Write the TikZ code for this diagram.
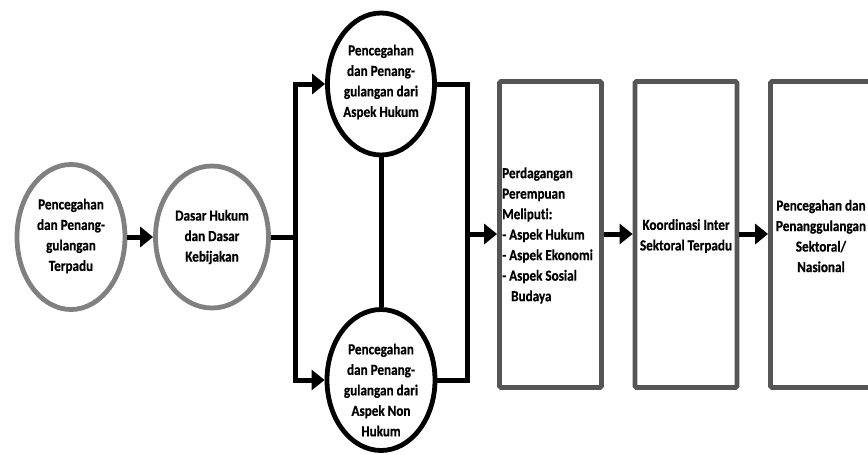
\documentclass[tikz,border=0pt]{standalone}
\usepackage{fontspec}
\setmainfont{Carlito}
\newfontfamily\tallfont[FakeStretch=0.86,FakeBold=0.6,Ligatures=NoCommon]{Carlito}
\usetikzlibrary{arrows.meta,positioning,shapes.geometric}
\definecolor{ink}{RGB}{0,0,0}
\definecolor{ringgrey}{RGB}{128,128,128}
\definecolor{boxgrey}{RGB}{85,85,85}
\tikzset{
  ring/.style={ellipse, draw=ringgrey, line width=4.8pt, fill=white, inner sep=0pt},
  darkring/.style={ring, draw=ink},
  panel/.style={rectangle, draw=boxgrey, line width=4.8pt, rounded corners=1.5pt,
              minimum width=102pt, minimum height=306pt, inner sep=0pt},
  txt/.style={font=\tallfont\fontsize{15.3}{20.5}\selectfont\bfseries, align=center, inner sep=0pt},
  flow/.style={-{Triangle[length=13pt,width=20pt]}, line width=5pt, ink},
  link/.style={line width=5pt, ink},
}
\begin{document}
\begin{tikzpicture}[x=1pt,y=-1pt]
    \useasboundingbox (0,0) rectangle (868,455);
    % left part
    \node[ring, minimum width=108pt, minimum height=145pt] (start) at (71,237) {};
    \node[ring, minimum width=113pt, minimum height=142pt] (basis) at (212,237) {};
    \node[txt] (startT) at (71,236) {Pencegahan\\dan Penang-\\gulangan\\Terpadu};
    \node[txt] (basisT) at (212,237) {Dasar Hukum\\dan Dasar\\Kebijakan};
    % two branches
    \node[darkring, minimum width=107pt, minimum height=142pt] (law) at (381,84) {};
    \node[darkring, minimum width=108pt, minimum height=141pt] (nonlaw) at (381,380) {};
    \node[txt] (lawT) at (381,82) {Pencegahan\\dan Penang-\\gulangan dari\\Aspek Hukum};
    \node[txt] (nonlawT) at (381,390) {Pencegahan\\dan Penang-\\gulangan dari\\Aspek Non\\Hukum};
    \coordinate (split) at (295,237);
    \coordinate (merge) at (467,234);
    % boxes
    \node[panel] (trade) at (550.5,234.5) {};
    \node[panel] (coord) at (686,234.5) {};
    \node[panel] (nation) at (821.5,234.5) {};
    \node[txt, align=left, anchor=west] (tradeT) at (502,235.5)
      {Perdagangan\\Perempuan\\Meliputi:\\- Aspek Hukum\\- Aspek Ekonomi\\- Aspek Sosial\\\hspace*{9pt}Budaya};
    \node[txt] (coordT) at (686,236) {Koordinasi Inter\\Sektoral Terpadu};
    \node[txt] (nationT) at (821,236) {Pencegahan dan\\Penanggulangan\\Sektoral/\\Nasional};
    % connectors
    \draw[flow] (start.east) -- (basis.west);
    \draw[link] (basis.east) -- (split);
    \draw[flow] (split) |- (law.west);
    \draw[flow] (split) |- (nonlaw.west);
    \draw[link] (law.south) -- (nonlaw.north);
    \draw[link] (law.east) -| (merge);
    \draw[link] (nonlaw.east) -| (merge);
    \draw[flow] (merge) -- (merge -| trade.west);
    \draw[flow] (trade.east |- merge) -- (coord.west |- merge);
    \draw[flow] (coord.east |- merge) -- (nation.west |- merge);
\end{tikzpicture}
\end{document}
